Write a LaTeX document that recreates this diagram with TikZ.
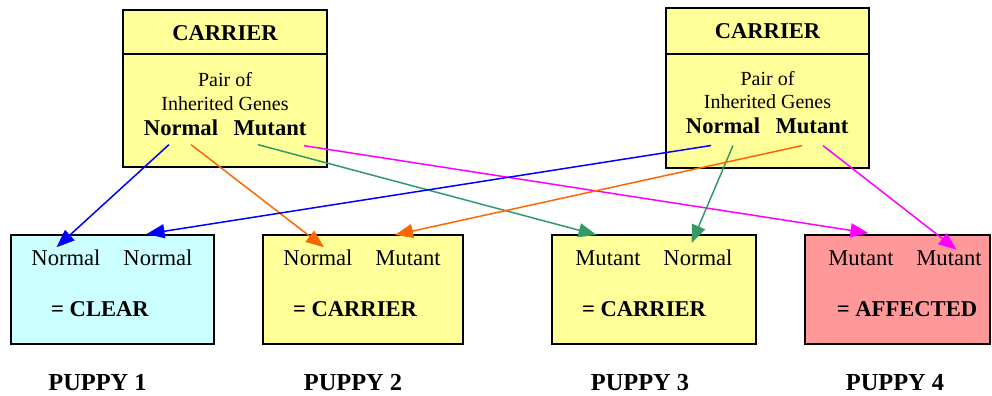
\documentclass[tikz,border=0pt]{standalone}
\usepackage{fontspec}
\setmainfont{Liberation Serif}
\usetikzlibrary{arrows.meta}

\definecolor{boxyellow}{RGB}{255,255,153}
\definecolor{boxcyan}{RGB}{204,255,255}
\definecolor{boxpink}{RGB}{255,153,153}
\definecolor{geneorange}{RGB}{255,102,0}
\definecolor{genegreen}{RGB}{51,153,102}
\definecolor{geneblue}{RGB}{0,0,255}
\definecolor{genemagenta}{RGB}{255,0,255}

\begin{document}
\begin{tikzpicture}[x=0.5pt, y=-0.5pt,
		box/.style={draw, line width=1pt, inner sep=0pt},
		txt/.style={anchor=base, inner sep=0pt, font=\fontsize{11.3}{13}\selectfont},
		btxt/.style={txt, font=\fontsize{11.3}{13}\selectfont\bfseries},
		ntxt/.style={txt, font=\fontsize{12.2}{14}\selectfont\bfseries},
		stxt/.style={txt, font=\fontsize{10}{12}\selectfont},
		gene/.style={-{Triangle[length=9pt, width=7pt]}, line width=0.75pt}]
			\useasboundingbox (0, 0) rectangle (992, 396);
			
			% parents
			\node[box, fill=boxyellow, minimum width=102pt, minimum height=78.5pt] (carA) at (225, 88.5) {};
			\node[box, fill=boxyellow, minimum width=101.5pt, minimum height=80pt] (carB) at (767.5, 88) {};
			\draw[line width=1pt] (carA.west |- 0, 54) -- (carA.east |- 0, 54);
			\draw[line width=1pt] (carB.west |- 0, 54) -- (carB.east |- 0, 54);
			
			\node[btxt] (titleA) at (225, 40.7) {CARRIER};
			\node[stxt] (pairA) at (225, 86.7) {Pair of};
			\node[stxt] (inhA) at (225, 110) {Inherited Genes};
			\node[btxt] (normA) at (181, 135) {Normal};
			\node[btxt] (mutA) at (270, 135) {Mutant};
			
			\node[btxt] (titleB) at (767.5, 38.7) {CARRIER};
			\node[stxt] (pairB) at (767.5, 85) {Pair of};
			\node[stxt] (inhB) at (767.5, 108.3) {Inherited Genes};
			\node[btxt] (normB) at (723, 133.3) {Normal};
			\node[btxt] (mutB) at (812, 133.3) {Mutant};
			
			% puppies
			\node[box, fill=boxcyan, minimum width=101.5pt, minimum height=54.5pt] (pup1) at (112.5, 289.5) {};
			\node[box, fill=boxyellow, minimum width=100pt, minimum height=54.5pt] (pup2) at (363, 289.5) {};
			\node[box, fill=boxyellow, minimum width=102pt, minimum height=54.5pt] (pup3) at (654, 289.5) {};
			\node[box, fill=boxpink, minimum width=92.5pt, minimum height=54.5pt] (pup4) at (897.5, 289.5) {};
			
			\node[txt] (p1a) at (66, 265.7) {Normal};
			\node[txt] (p1b) at (158, 265.7) {Normal};
			\node[btxt] (p1res) at (100, 316) {= CLEAR};
			\node[ntxt] (p1name) at (97.5, 390) {PUPPY 1};
			
			\node[txt] (p2a) at (318, 265.7) {Normal};
			\node[txt] (p2b) at (408, 265.7) {Mutant};
			\node[btxt] (p2res) at (355, 316) {= CARRIER};
			\node[ntxt] (p2name) at (353, 390) {PUPPY 2};
			
			\node[txt] (p3a) at (608, 265.7) {Mutant};
			\node[txt] (p3b) at (698, 265.7) {Normal};
			\node[btxt] (p3res) at (644, 316) {= CARRIER};
			\node[ntxt] (p3name) at (640, 390) {PUPPY 3};
			
			\node[txt] (p4a) at (861, 265.7) {Mutant};
			\node[txt] (p4b) at (949, 265.7) {Mutant};
			\node[btxt] (p4res) at (907, 316) {= AFFECTED};
			\node[ntxt] (p4name) at (895, 390) {PUPPY 4};
			
			% inherited genes
			\draw[gene, geneblue] ([xshift=-6pt, yshift=-4.5pt]normA.south) -- ([xshift=-4.7pt, yshift=1.2pt]p1a.north);
			\draw[gene, geneorange] ([xshift=5pt, yshift=-4.5pt]normA.south) -- ([xshift=3pt, yshift=1.2pt]p2a.north);
			\draw[gene, genegreen] ([xshift=-6pt, yshift=-4.5pt]mutA.south) -- ([xshift=-5.7pt, yshift=7.8pt]p3a.north);
			\draw[gene, genemagenta] ([xshift=17pt, yshift=-5pt]mutA.south) -- ([xshift=3.7pt, yshift=8.7pt]p4a.north);
			
			\draw[gene, geneblue] ([xshift=-6pt, yshift=-5.8pt]normB.south) -- ([xshift=-5.7pt, yshift=7.8pt]p1b.north);
			\draw[gene, genegreen] ([xshift=5pt, yshift=-5.8pt]normB.south) -- ([xshift=-3.2pt, yshift=3.3pt]p3b.north);
			\draw[gene, geneorange] ([xshift=-5pt, yshift=-5.8pt]mutB.south) -- ([xshift=-6.5pt, yshift=7.8pt]p2b.north);
			\draw[gene, genemagenta] ([xshift=5.5pt, yshift=-5.8pt]mutB.south) -- ([xshift=3.8pt, yshift=0.4pt]p4b.north);
			
		\end{tikzpicture}
\end{document}
